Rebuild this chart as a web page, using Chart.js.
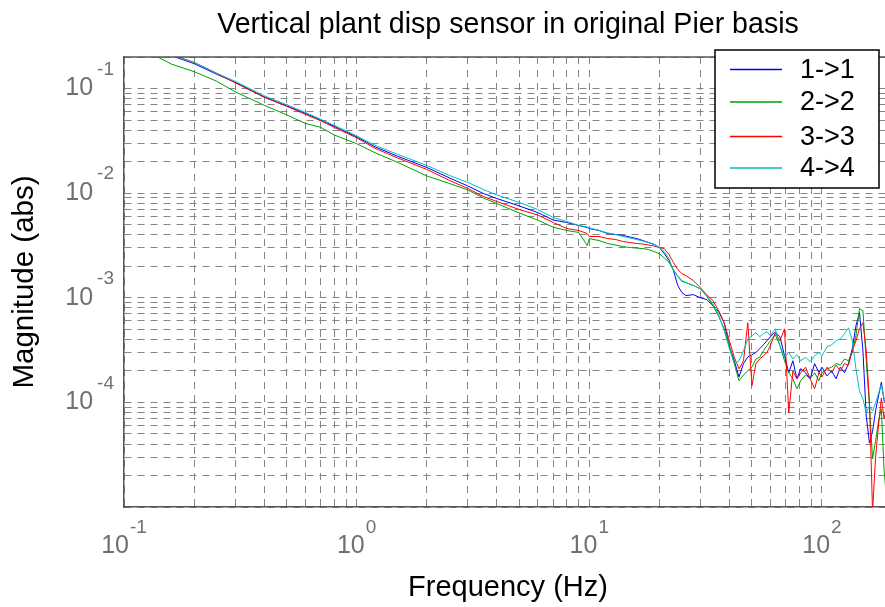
<!DOCTYPE html>
<html lang="en">
<head>
    <meta charset="UTF-8">
    <title>Vertical plant disp sensor in original Pier basis</title>
    <script src="https://cdn.jsdelivr.net/npm/chart.js"></script>
    <style>
        html, body { margin: 0; padding: 0; background: #ffffff; overflow: hidden; }
        /* the original figure is cut a few pixels before the right edge of the axes */
        .recorte { width: 885px; height: 607px; overflow: hidden; }
        .grafico { width: 892px; height: 607px; position: relative; }
    </style>
</head>
<body>
<div class="recorte">
    <div class="grafico">
        <canvas id="myChart"></canvas>
    </div>
</div>

<script>
    // frequencias (Hz)
    const freq = [
        0.1, 0.12, 0.14, 0.16, 0.2, 0.25, 0.3, 0.4, 0.5, 0.6, 0.7, 0.8,
        1.0, 1.2, 1.5, 2.0, 2.5, 3.0, 3.5, 4.0, 5.0, 6.0, 7.0, 8.0, 9.0, 9.8,
        10, 11, 12, 13, 14, 15, 16, 17, 18, 19, 20, 21, 22, 23, 24, 25, 26,
        28, 30, 32, 34, 36, 38, 40, 42, 44, 46, 48, 50, 52, 54, 56, 58, 60,
        63, 66, 69, 72, 75, 78, 81, 85, 89, 93, 97, 100, 105, 110, 115, 120,
        125, 130, 135, 140, 145, 150, 155, 160, 165, 170, 175, 180, 185, 190
    ];

    // 1->1 (azul)
    const mag11 = [
        0.32, 0.272, 0.234, 0.206, 0.173, 0.137, 0.1148, 0.0831, 0.0684, 0.058, 0.0502, 0.0436,
        0.0345, 0.0277, 0.0225, 0.0176, 0.014, 0.01173, 0.00994, 0.00889, 0.00754, 0.00653, 0.00553, 0.00524, 0.00491, 0.00469,
        0.00459, 0.0044, 0.00411, 0.00402, 0.00394, 0.0038, 0.00368, 0.00352, 0.00337, 0.00323, 0.00302, 0.00264, 0.00227, 0.00182, 0.00131, 0.00112, 0.00105,
        0.00107, 0.001, 0.00096, 0.00084, 0.000735, 0.000577, 0.00034, 0.00025, 0.000175, 0.000235, 0.000272, 0.000285, 0.0003, 0.000326, 0.000355, 0.000388, 0.000424,
        0.00047, 0.000424, 0.000279, 0.000192, 0.00025, 0.000168, 0.00021, 0.000192, 0.000168, 0.000235, 0.000192, 0.000217, 0.000179, 0.0002, 0.000168, 0.000217,
        0.000192, 0.000235, 0.000326, 0.000541, 0.00072, 0.000311, 0.000074, 0.000041, 0.000053, 0.000083, 0.000115, 0.000156, 0.000103, 0.000103
    ];

    // 2->2 (verde)
    const mag22 = [
        0.276, 0.232, 0.1995, 0.171, 0.145, 0.1175, 0.0932, 0.0692, 0.0561, 0.0465, 0.0426, 0.036,
        0.0297, 0.0243, 0.0197, 0.01462, 0.01239, 0.01074, 0.009, 0.00796, 0.00646, 0.00553, 0.00472, 0.0044, 0.00421, 0.00316,
        0.00368, 0.00352, 0.0033, 0.00319, 0.00308, 0.00302, 0.00298, 0.00295, 0.00289, 0.00276, 0.00264, 0.0024, 0.00219, 0.00186, 0.0016, 0.00143, 0.0014,
        0.00131, 0.00122, 0.00103, 0.00084, 0.00066, 0.000506, 0.000348, 0.000234, 0.000161, 0.000183, 0.0002, 0.000217, 0.00026, 0.00027, 0.000311, 0.000348, 0.000388,
        0.000444, 0.000348, 0.00025, 0.000192, 0.000168, 0.000135, 0.000161, 0.000183, 0.000168, 0.000192, 0.000161, 0.000192, 0.000209, 0.000217, 0.000235, 0.000227,
        0.00026, 0.00025, 0.0003, 0.000434, 0.000787, 0.000752, 0.00025, 0.0000925, 0.0000288, 0.0000428, 0.0000665, 0.0000866, 0.000022, 0.0000114
    ];

    // 3->3 (vermelho)
    const mag33 = [
        0.33, 0.278, 0.238, 0.21, 0.178, 0.14, 0.1137, 0.0826, 0.0676, 0.0568, 0.0492, 0.0426,
        0.0338, 0.0268, 0.0217, 0.01687, 0.01324, 0.0111, 0.00929, 0.00832, 0.00697, 0.00618, 0.00524, 0.00459, 0.0044, 0.00411,
        0.00385, 0.00385, 0.00368, 0.0036, 0.00344, 0.00337, 0.0033, 0.00326, 0.00319, 0.00312, 0.00302, 0.00295, 0.00259, 0.00217, 0.00186, 0.0017, 0.00163,
        0.00146, 0.00125, 0.00107, 0.000938, 0.000752, 0.000577, 0.000388, 0.00027, 0.000209, 0.00025, 0.000577, 0.000144, 0.000235, 0.00026, 0.000279, 0.0003, 0.000348,
        0.000463, 0.000388, 0.000505, 0.0000794, 0.0002, 0.000168, 0.000192, 0.000217, 0.000168, 0.000135, 0.000192, 0.000175, 0.000217, 0.000192, 0.000227, 0.0002,
        0.000235, 0.000227, 0.000311, 0.000388, 0.000505, 0.000577, 0.000311, 0.000103, 0.000009, 0.00003, 0.00006, 0.00011, 0.00007, 0.00009
    ];

    // 4->4 (ciano)
    const mag44 = [
        0.33, 0.28, 0.24, 0.21, 0.1766, 0.14, 0.1175, 0.0853, 0.07, 0.0593, 0.0508, 0.0445,
        0.0353, 0.0286, 0.0235, 0.0184, 0.0148, 0.01266, 0.01084, 0.00962, 0.00815, 0.00697, 0.00585, 0.00536, 0.00491, 0.00475,
        0.00465, 0.0044, 0.00416, 0.00402, 0.00385, 0.00372, 0.0036, 0.00348, 0.00337, 0.00323, 0.00302, 0.00276, 0.00237, 0.00182, 0.00161, 0.00146, 0.0014,
        0.00131, 0.00122, 0.00105, 0.00088, 0.000688, 0.000484, 0.000326, 0.000235, 0.00025, 0.000311, 0.000405, 0.000434, 0.000463, 0.000424, 0.000454, 0.000474, 0.000434,
        0.000505, 0.000348, 0.00027, 0.0003, 0.00026, 0.000285, 0.00025, 0.00027, 0.000245, 0.000279, 0.0003, 0.000279, 0.000339, 0.000355, 0.000388, 0.000405,
        0.000454, 0.000516, 0.000388, 0.000209, 0.000129, 0.000108, 0.0000794, 0.0000925, 0.0000828, 0.000099, 0.000122, 0.000147, 0.000108, 0.000115
    ];

    const legendas = ['1->1', '2->2', '3->3', '4->4'];
    const cores = ['#0000ff', '#00a000', '#ff0000', '#00bfbf'];

    // rotulos dos eixos: 10^expoente
    const xTickExp = [-1, 0, 1, 2];
    const yTickExp = [-1, -2, -3, -4];

    const fonte = "'Liberation Sans', Arial, sans-serif";

    // linhas de grade em 1..9 x 10^k, como no grafico original
    function gradeLog(scale) {
        const ticks = [];
        for (let k = -6; k <= 3; k++) {
            for (let d = 1; d <= 9; d++) {
                const v = d * Math.pow(10, k);
                if (v >= scale.min * 0.999 && v <= scale.max * 1.001) ticks.push({ value: v });
            }
        }
        scale.ticks = ticks;
    }

    const series = [mag11, mag22, mag33, mag44];

    const data = {
        datasets: series.map((s, i) => ({
            label: legendas[i],
            data: freq.map((f, j) => ({ x: f, y: s[j] })),
            borderColor: cores[i],
            backgroundColor: cores[i],
            borderWidth: 1,
            pointRadius: 0,
            fill: false,
            tension: 0,
            order: 4 - i
        }))
    };

    // rotulos com expoente, borda de cima e legenda dentro do grafico
    const desenhos = {
        id: 'desenhos',
        afterDraw(chart) {
            const { ctx, chartArea, scales } = chart;
            ctx.save();

            ctx.strokeStyle = '#555555';
            ctx.lineWidth = 1.5;
            ctx.beginPath();
            ctx.moveTo(chartArea.left, chartArea.top);
            ctx.lineTo(chartArea.right, chartArea.top);
            ctx.stroke();

            ctx.fillStyle = '#707070';
            ctx.textBaseline = 'middle';

            xTickExp.forEach(e => {
                const x = scales.x.getPixelForValue(Math.pow(10, e));
                ctx.font = '25px ' + fonte;
                const w1 = ctx.measureText('10').width;
                ctx.font = '19px ' + fonte;
                const w2 = ctx.measureText(String(e)).width;
                const x0 = x - (w1 + 1 + w2) / 2;
                ctx.textAlign = 'left';
                ctx.font = '25px ' + fonte;
                ctx.fillText('10', x0, 546);
                ctx.font = '19px ' + fonte;
                ctx.fillText(String(e), x0 + w1 + 1, 528);
            });

            yTickExp.forEach(e => {
                const y = scales.y.getPixelForValue(Math.pow(10, e));
                ctx.textAlign = 'right';
                ctx.font = '19px ' + fonte;
                const w2 = ctx.measureText(String(e)).width;
                ctx.fillText(String(e), 114, y - 19);
                ctx.font = '25px ' + fonte;
                ctx.fillText('10', 114 - w2 - 4, y);
            });

            // legenda
            const lx = 715, ly = 50, lw = 164, lh = 138;
            ctx.fillStyle = '#ffffff';
            ctx.fillRect(lx, ly, lw, lh);
            ctx.strokeStyle = '#000000';
            ctx.lineWidth = 1.5;
            ctx.strokeRect(lx, ly, lw, lh);
            const linhas = [69.5, 102, 136.5, 168];
            chart.data.datasets.forEach((ds, i) => {
                const y = linhas[i];
                ctx.strokeStyle = ds.borderColor;
                ctx.lineWidth = 1.5;
                ctx.beginPath();
                ctx.moveTo(730, y);
                ctx.lineTo(782, y);
                ctx.stroke();
                ctx.fillStyle = '#000000';
                ctx.textAlign = 'left';
                ctx.textBaseline = 'middle';
                ctx.font = '27px ' + fonte;
                ctx.fillText(ds.label, 800, y + 1);
            });

            ctx.restore();
        }
    };

    const config = {
        type: 'line',
        data: data,
        options: {
            responsive: true,
            maintainAspectRatio: false,
            animation: false,
            devicePixelRatio: 1,
            events: [],
            layout: { padding: 0 },
            plugins: {
                title: {
                    display: true,
                    text: 'Vertical plant disp sensor in original Pier basis',
                    color: '#000000',
                    fullSize: false,
                    font: { family: fonte, size: 28.6, weight: 'normal' },
                    padding: { top: 8, bottom: 14.7 }
                },
                legend: { display: false },
                tooltip: { enabled: false }
            },
            scales: {
                x: {
                    type: 'logarithmic',
                    position: 'bottom',
                    min: 0.1,
                    max: 200,
                    afterBuildTicks: gradeLog,
                    afterFit: s => { s.height = 100; },
                    ticks: { display: false },
                    grid: { color: '#858585', lineWidth: 1, drawTicks: false },
                    border: { display: true, color: '#555555', width: 1.5, dash: [7, 6] },
                    title: {
                        display: true,
                        text: 'Frequency (Hz)',
                        color: '#000000',
                        font: { family: fonte, size: 29 },
                        padding: { top: 0, bottom: 2 }
                    }
                },
                y: {
                    type: 'logarithmic',
                    position: 'left',
                    min: 0.00001,
                    max: 0.2,
                    afterBuildTicks: gradeLog,
                    afterFit: s => { s.width = 124; },
                    ticks: { display: false },
                    grid: { color: '#858585', lineWidth: 1, drawTicks: false },
                    border: { display: true, color: '#555555', width: 1.5, dash: [7, 6] },
                    title: {
                        display: true,
                        text: 'Magnitude (abs)',
                        color: '#000000',
                        font: { family: fonte, size: 29.5 },
                        padding: { top: 7, bottom: 0 }
                    }
                }
            }
        },
        plugins: [desenhos]
    };

    const myChart = new Chart(document.getElementById('myChart'), config);
</script>
</body>
</html>
